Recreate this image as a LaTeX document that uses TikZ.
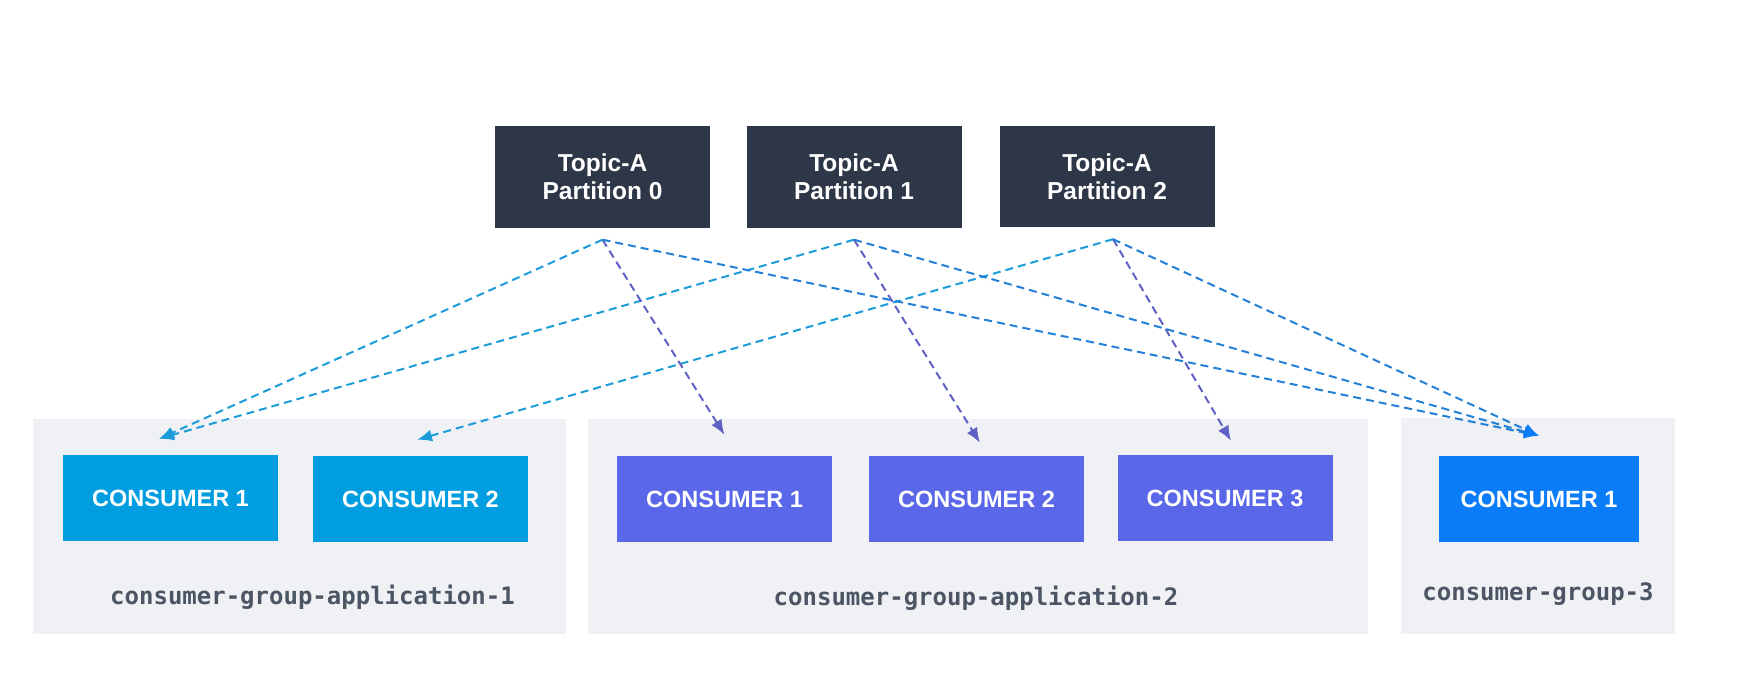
\documentclass[tikz,border=0pt]{standalone}
\usepackage{fontspec}
\setmainfont{Liberation Sans}
\newfontfamily\groupfont{DejaVu Sans Mono}
\usetikzlibrary{arrows.meta}

\definecolor{topicbg}{RGB}{45,55,72}
\definecolor{groupbg}{RGB}{239,241,245}
\definecolor{cyanbox}{RGB}{0,157,224}
\definecolor{violetbox}{RGB}{90,103,232}
\definecolor{bluebox}{RGB}{10,124,247}
\definecolor{cyanline}{RGB}{28,156,216}
\definecolor{violetline}{RGB}{94,96,196}
\definecolor{blueline}{RGB}{36,128,214}
\definecolor{labelgray}{RGB}{75,85,99}

\begin{document}
\begin{tikzpicture}[x=1pt, y=-1pt,
    topic/.style={fill=topicbg, text=white, minimum width=215pt,
        minimum height=101pt, inner sep=0pt, align=center,
        font=\bfseries\fontsize{24.5}{28.3}\selectfont},
    groupbox/.style={fill=groupbg, inner sep=0pt, anchor=north west},
    consumer/.style={text=white, minimum width=215pt, minimum height=86pt,
        inner sep=0pt, font=\bfseries\fontsize{23.5}{26}\selectfont},
    grouplabel/.style={text=labelgray, anchor=base,
        font=\groupfont\bfseries\fontsize{24}{26}\selectfont},
    flow/.style={dash pattern=on 8pt off 5pt, line width=2pt,
        -{Latex[length=15pt, width=12pt]}},
    flowthree/.style={flow, blueline,
        -{Latex[length=15pt, width=12pt, color=bluebox]}}]
    \useasboundingbox (0,0) rectangle (1747,679);

    % Группы потребителей
    \node[groupbox, minimum width=533pt, minimum height=215pt] (g1) at (33,419) {};
    \node[groupbox, minimum width=780pt, minimum height=215pt] (g2) at (588,419) {};
    \node[groupbox, minimum width=274pt, minimum height=216pt] (g3) at (1401,418) {};

    \node[grouplabel] (g1name) at (312.5,604) {consumer-group-application-1};
    \node[grouplabel] (g2name) at (976,605) {consumer-group-application-2};
    \node[grouplabel] (g3name) at (1538,600) {consumer-group-3};

    % Разделы топика
    \node[topic] (p0) at (602.5,177) {Topic-A\\Partition 0};
    \node[topic] (p1) at (854,177) {Topic-A\\Partition 1};
    \node[topic] (p2) at (1107,176.5) {Topic-A\\Partition 2};

    % Потребители
    \node[consumer, fill=cyanbox] (a1) at (170.5,498) {CONSUMER 1};
    \node[consumer, fill=cyanbox] (a2) at (420.5,499) {CONSUMER 2};
    \node[consumer, fill=violetbox] (b1) at (724.5,499) {CONSUMER 1};
    \node[consumer, fill=violetbox] (b2) at (976.5,499) {CONSUMER 2};
    \node[consumer, fill=violetbox] (b3) at (1225,498) {CONSUMER 3};
    \node[consumer, fill=bluebox, minimum width=200pt] (c1) at (1539,499) {CONSUMER 1};

    % Стрелки
    \draw[flow, cyanline] ([yshift=-12pt]p0.south) -- ([xshift=-11.5pt, yshift=16pt]a1.north);
    \draw[flow, cyanline] ([yshift=-12pt]p1.south) -- ([xshift=-11.5pt, yshift=16pt]a1.north);
    \draw[flow, cyanline] ([xshift=6pt, yshift=-12pt]p2.south) -- ([xshift=-3.5pt, yshift=16pt]a2.north);

    \draw[flow, violetline] ([yshift=-12pt]p0.south) -- ([yshift=21pt]b1.north);
    \draw[flow, violetline] ([yshift=-12pt]p1.south) -- ([xshift=3.5pt, yshift=13pt]b2.north);
    \draw[flow, violetline] ([xshift=6pt, yshift=-12pt]p2.south) -- ([xshift=6pt, yshift=14pt]b3.north);

    \draw[flowthree] ([yshift=-12pt]p0.south) -- ([yshift=20pt]c1.north);
    \draw[flowthree] ([yshift=-12pt]p1.south) -- ([yshift=20pt]c1.north);
    \draw[flowthree] ([xshift=6pt, yshift=-12pt]p2.south) -- ([yshift=20pt]c1.north);
\end{tikzpicture}
\end{document}
